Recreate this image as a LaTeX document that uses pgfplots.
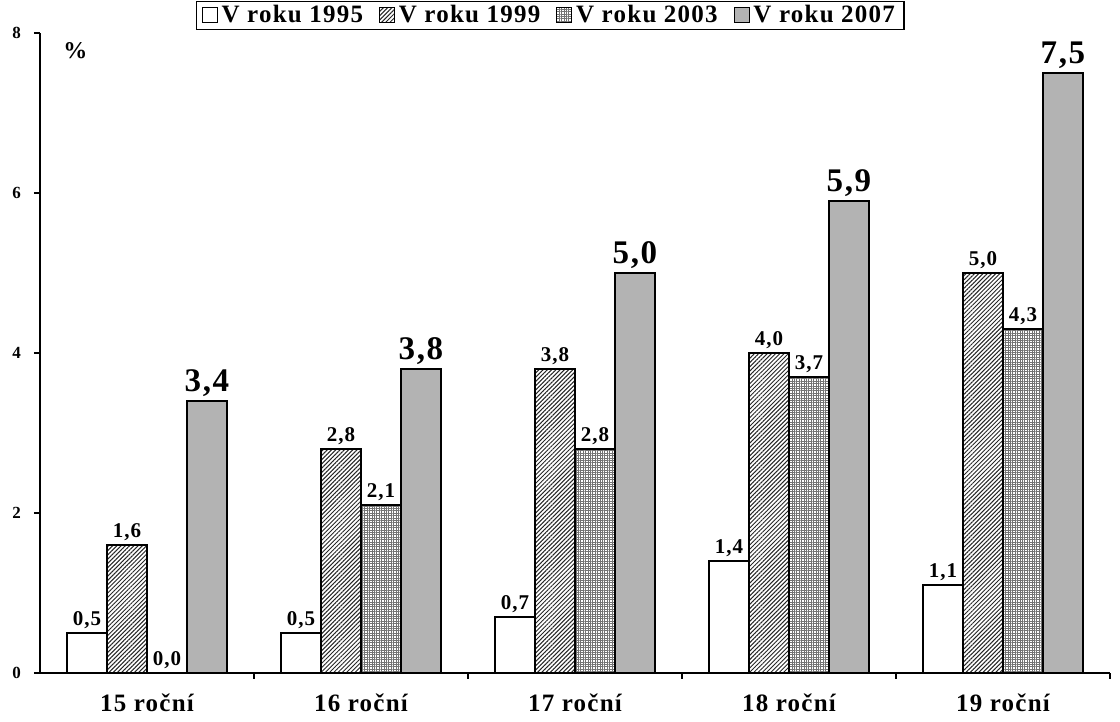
\documentclass[border=0pt]{standalone}
\usepackage{pgfplots}
\pgfplotsset{compat=1.18}
\usetikzlibrary{patterns.meta}
\usepackage{fontspec}
\setmainfont{Liberation Serif}[LetterSpace=5]
\definecolor{bar07}{HTML}{B3B3B3}
\begin{document}
\bfseries
\begin{tikzpicture}
\useasboundingbox (-20pt,-24.5pt) rectangle (540pt,336.5pt);
\begin{axis}[
  scale only axis, width=535pt, height=320pt,
  ymin=0, ymax=8, xmin=-0.5, xmax=4.5,
  axis lines=left, axis line style={-, line width=0.8pt},
  ybar=0pt, bar width=20pt,
  xtick={0,...,4},
  xticklabels={15 roční, 16 roční, 17 roční, 18 roční, 19 roční},
  minor xtick={0.5,1.5,2.5,3.5,4.5},
  major x tick style={draw=none},
  minor tick length=3pt,
  tick align=outside,
  xticklabel style={font=\fontsize{12.5}{14}\selectfont\bfseries, yshift=-4pt},
  ytick={0,2,4,6,8},
  major tick length=3pt,
  yticklabel style={font=\fontsize{8.5}{10}\selectfont\bfseries, xshift=-3pt},
  tick style={line width=0.8pt, black},
  /pgf/number format/assume math mode=true,
  nodes near coords={\pgfmathprintnumber[fixed,fixed zerofill,precision=1,use comma]{\pgfplotspointmeta}},
  every node near coord/.append style={font=\fontsize{10.5}{12}\selectfont\bfseries, inner sep=2pt},
  legend style={at={(0.477,1.004)}, anchor=south, legend columns=4, draw=black, line width=0.6pt,
    font=\fontsize{12.5}{14}\selectfont\bfseries, inner xsep=2.5pt, inner ysep=0pt,
    /tikz/every even column/.append style={column sep=6pt}},
  legend image code/.code={\draw[#1, line width=0.4pt] (0pt,-3.5pt) rectangle (7.5pt,4pt);},
  clip=false,
]
\addplot[draw=black, fill=white, line width=0.6pt] coordinates {(0,0.5) (1,0.5) (2,0.7) (3,1.4) (4,1.1)};
\addlegendentry{V roku 1995}
\addplot[draw=black, line width=0.6pt, pattern={Lines[angle=45,distance=1.5pt,line width=0.5pt]}, pattern color=black!85] coordinates {(0,1.6) (1,2.8) (2,3.8) (3,4.0) (4,5.0)};
\addlegendentry{V roku 1999}
\addplot[draw=black, line width=0.6pt, pattern={Hatch[angle=0,distance=1.2pt,line width=0.45pt]}, pattern color=black!55] coordinates {(0,0.0) (1,2.1) (2,2.8) (3,3.7) (4,4.3)};
\addlegendentry{V roku 2003}
\addplot[draw=black, fill=bar07, line width=0.6pt,
  every node near coord/.append style={font=\fontsize{16.5}{18}\selectfont\bfseries}] coordinates {(0,3.4) (1,3.8) (2,5.0) (3,5.9) (4,7.5)};
\addlegendentry{V roku 2007}
\node[font=\fontsize{12}{13}\selectfont\bfseries] at (rel axis cs:0.033,0.973) {\%};
\end{axis}
\end{tikzpicture}
\end{document}
